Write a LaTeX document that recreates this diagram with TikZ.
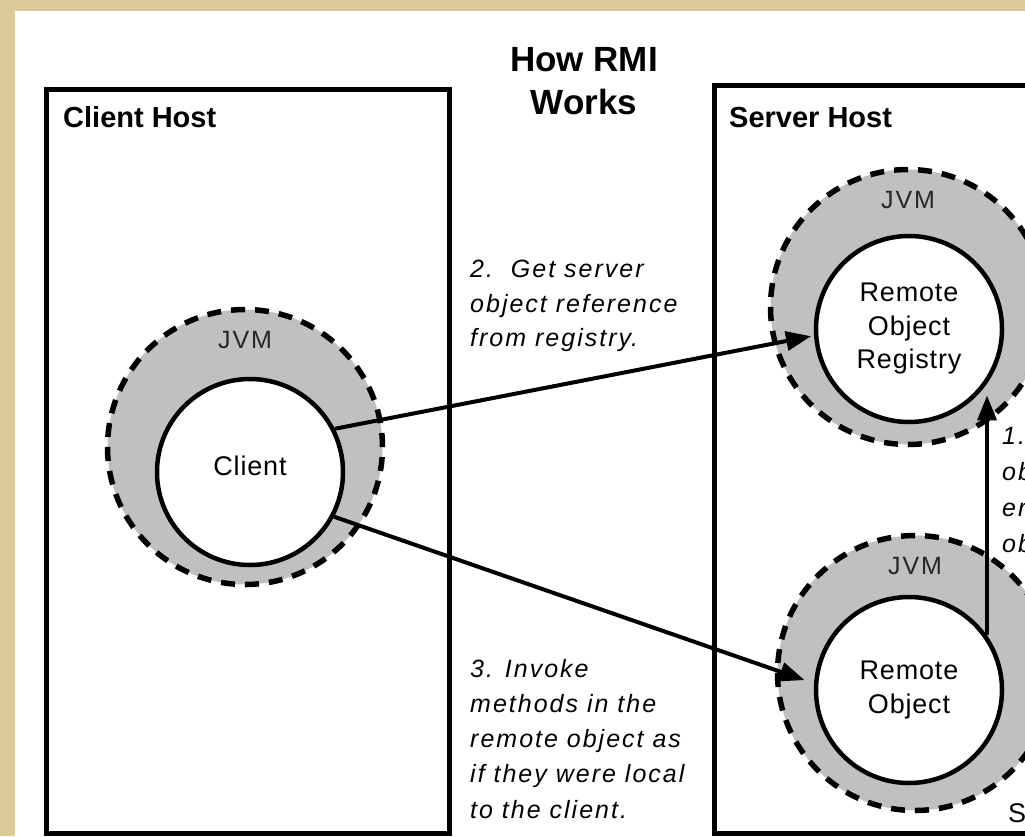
\documentclass[tikz,border=0pt]{standalone}
\usepackage{fontspec}
\setmainfont{Liberation Sans}
\newfontfamily\lblfont[LetterSpace=8]{Liberation Sans}
\newfontfamily\normfont[LetterSpace=3]{Liberation Sans}
\usetikzlibrary{arrows.meta}
\definecolor{paper}{RGB}{220,202,152}
\definecolor{jvmgray}{RGB}{192,192,192}
\begin{document}
\begin{tikzpicture}[x=1pt,y=-1pt,
  hostbox/.style={draw=black, line width=5pt},
  jvm/.style={circle, draw=black, fill=jvmgray, line width=5.5pt, dash pattern=on 14pt off 10pt, minimum size=275pt, inner sep=0pt},
  proc/.style={circle, draw=black, fill=white, line width=4.5pt, minimum size=186pt, inner sep=0pt, align=center, font=\normfont\fontsize{27}{33.5}\selectfont},
  jvmlbl/.style={font=\lblfont\fontsize{25}{30}\selectfont, text=black!85, inner sep=0pt},
  hosttitle/.style={font=\bfseries\fontsize{29}{34}\selectfont, anchor=base west, inner sep=0pt},
  note/.style={font=\lblfont\itshape\fontsize{25}{34.5}\selectfont, align=left, anchor=north west, inner sep=0pt},
  arr/.style={line width=4pt, -{Triangle[length=25pt,width=19pt]}},
]
\useasboundingbox (0,0) rectangle (1025,836);
\clip (0,0) rectangle (1025,836);
\fill[paper] (0,0) rectangle (1025,836);
\fill[white] (15,11) rectangle (1030,840);

% host boxes
\draw[hostbox] (46.5,89) rectangle (449.5,833.5);
\draw[hostbox] (714.5,85.5) rectangle (1100,833.5);
\node[hosttitle] (clienthost) at (63,127) {Client Host};
\node[hosttitle] (serverhost) at (729,127) {Server Host};

% title
\node[font=\bfseries\fontsize{35}{43}\selectfont, align=center, anchor=north, inner sep=0pt] (title) at (584,47.5) {How RMI\\Works};

% JVMs
\node[jvm] (cjvm) at (245,447) {};
\node[jvm] (rjvm) at (908,307) {};
\node[jvm] (ojvm) at (915,673) {};
\node[jvmlbl, yshift=107pt] (cjvml) at (cjvm) {JVM};
\node[jvmlbl, yshift=107pt] (rjvml) at (rjvm) {JVM};
\node[jvmlbl, yshift=107pt] (ojvml) at (ojvm) {JVM};

% processes
\node[proc, text depth=13pt] (cl) at (250,472) {Client};
\node[proc] (reg) at (909,329) {Remote\\Object\\Registry};
\node[proc] (ro) at (909,690) {Remote\\Object};

% notes
\node[note] (n2) at (470,260) {2.\ \ Get server\\object reference\\from registry.};
\node[note, font=\lblfont\itshape\fontsize{25}{35.2}\selectfont] (n3) at (470,659) {3. Invoke\\methods in the\\remote object as\\if they were local\\to the client.};
\node[note, font=\lblfont\itshape\fontsize{25}{36}\selectfont] (n1) at (1002,427) {1.\\ob\\er\\ob};
\node[font=\normfont\fontsize{27}{30}\selectfont, anchor=base west, inner sep=0pt] (s) at (1008,822) {S};

% arrows
\draw[arr, shorten >=3pt] (cl.27) -- (reg.184);
\draw[arr, shorten >=10pt] (cl.-28) -- (ro.176);
\draw[arr, shorten >=16pt] (ro.35) -- (ro.35 |- reg.-32);
\end{tikzpicture}
\end{document}
